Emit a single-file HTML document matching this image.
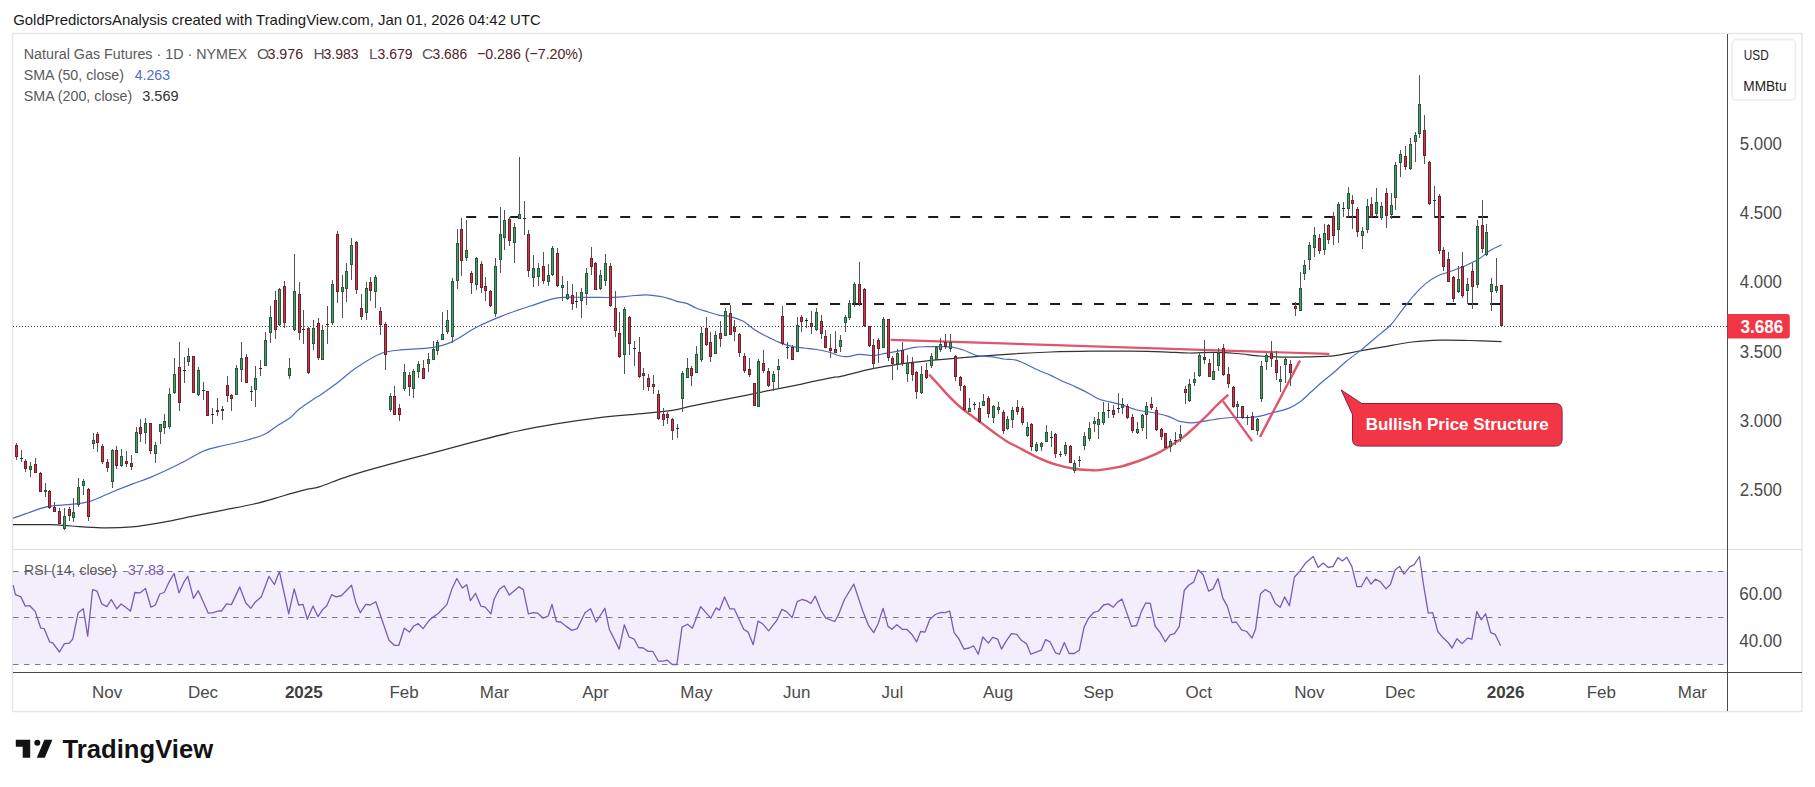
<!DOCTYPE html>
<html><head><meta charset="utf-8"><title>Natural Gas Futures chart</title>
<style>
html,body{margin:0;padding:0;background:#fff;}
body{width:1815px;height:787px;overflow:hidden;}
svg{display:block;font-family:"Liberation Sans",sans-serif;}
</style></head><body>
<svg width="1815" height="787" viewBox="0 0 1815 787" shape-rendering="auto">
<rect x="12.5" y="33.5" width="1789.5" height="678" fill="#fff" stroke="#e6e6e6" stroke-width="1.5"/>
<rect x="13" y="571.5" width="1714" height="92.5" fill="#f3eefb"/>
<line x1="13" y1="549.5" x2="1802" y2="549.5" stroke="#dedede" stroke-width="1"/>
<line x1="13" y1="571.5" x2="1727" y2="571.5" stroke="#787b86" stroke-width="1" stroke-dasharray="5.5 5.5"/>
<line x1="13" y1="617.5" x2="1727" y2="617.5" stroke="#787b86" stroke-width="1" stroke-dasharray="5.5 5.5"/>
<line x1="13" y1="664.5" x2="1727" y2="664.5" stroke="#787b86" stroke-width="1" stroke-dasharray="5.5 5.5"/>
<line x1="1727.5" y1="34" x2="1727.5" y2="711" stroke="#4a4a4a" stroke-width="1"/>
<line x1="13" y1="672.5" x2="1802" y2="672.5" stroke="#4a4a4a" stroke-width="1"/>
<line x1="13" y1="326.5" x2="1727" y2="326.5" stroke="#4d3f45" stroke-width="1" stroke-dasharray="1 2"/>
<line x1="466.2" y1="217" x2="1488" y2="217" stroke="#1c1c1c" stroke-width="2" stroke-dasharray="10 12"/>
<line x1="720.1" y1="304" x2="1501" y2="304" stroke="#1c1c1c" stroke-width="2" stroke-dasharray="10 12"/>
<path d="M13,524.7 C19.28,524.7 41.03,524.48 50.7,524.7 C60.37,524.92 62.53,525.48 71,526 C79.47,526.52 91.33,527.67 101.5,527.8 C111.67,527.93 121.83,527.72 132,526.8 C142.17,525.88 152.33,524.07 162.5,522.3 C172.67,520.53 182.83,518.23 193,516.2 C203.17,514.17 213.33,512.13 223.5,510.1 C233.67,508.07 243.85,506.43 254,504 C264.15,501.57 275.93,497.87 284.4,495.5 C292.87,493.13 298.87,491.28 304.8,489.8 C310.73,488.32 312.8,488.85 320,486.6 C327.2,484.35 336.35,480.03 348,476.3 C359.65,472.57 375.93,468.07 389.9,464.2 C403.87,460.33 417.83,456.82 431.8,453.1 C445.77,449.38 459.73,445.5 473.7,441.9 C487.67,438.3 501.62,434.53 515.6,431.5 C529.58,428.47 543.62,426.02 557.6,423.7 C571.58,421.38 587.43,419.1 599.5,417.6 C611.57,416.1 618.13,415.85 630,414.7 C641.87,413.55 660.53,412.12 670.7,410.7 C680.87,409.28 680.85,408.3 691,406.2 C701.15,404.1 718.05,400.82 731.6,398.1 C745.15,395.38 760.43,392.28 772.3,389.9 C784.17,387.52 792.63,385.9 802.8,383.8 C812.97,381.7 827.1,378.5 833.3,377.3 C839.5,376.1 833.43,378.03 840,376.6 C846.57,375.17 862.78,370.77 872.7,368.7 C882.62,366.63 890.07,365.53 899.5,364.2 C908.93,362.87 920.22,361.68 929.3,360.7 C938.38,359.72 940.55,359.4 954,358.3 C967.45,357.2 993.88,355.15 1010,354.1 C1026.12,353.05 1037.15,352.48 1050.7,352 C1064.25,351.52 1077.75,351.33 1091.3,351.2 C1104.85,351.07 1120.13,351.1 1132,351.2 C1143.87,351.3 1152.83,351.5 1162.5,351.8 C1172.17,352.1 1181.37,352.9 1190,353 C1198.63,353.1 1206.43,352.32 1214.3,352.4 C1222.17,352.48 1229.57,352.9 1237.2,353.5 C1244.83,354.1 1252.48,355.38 1260.1,356 C1267.72,356.62 1275.28,357.05 1282.9,357.2 C1290.52,357.35 1298.17,357.07 1305.8,356.9 C1313.43,356.73 1322.03,356.73 1328.7,356.2 C1335.37,355.67 1340.58,354.58 1345.8,353.7 C1351.02,352.82 1353.73,352.05 1360,350.9 C1366.27,349.75 1374.73,348.28 1383.4,346.8 C1392.07,345.32 1402.47,343.12 1412,342 C1421.53,340.88 1431.07,340.35 1440.6,340.1 C1450.13,339.85 1459.03,340.25 1469.2,340.5 C1479.37,340.75 1496.2,341.42 1501.6,341.6" fill="none" stroke="#333333" stroke-width="1.25"/>
<path d="M13,518.2 C15.88,517.18 24.37,514.07 30.3,512.1 C36.23,510.13 41.82,507.68 48.6,506.4 C55.38,505.12 64.22,505.2 71,504.4 C77.78,503.6 82.53,503.63 89.3,501.6 C96.07,499.57 104.48,495.12 111.6,492.2 C118.72,489.28 125.22,486.7 132,484.1 C138.78,481.5 143.83,480.23 152.3,476.6 C160.77,472.97 174.33,466.53 182.8,462.3 C191.27,458.07 196.32,454 203.1,451.2 C209.88,448.4 216.72,447.2 223.5,445.5 C230.28,443.8 237.03,442.83 243.8,441 C250.57,439.17 258.68,436.93 264.1,434.5 C269.52,432.07 271.9,429.22 276.3,426.4 C280.7,423.58 286.77,420.42 290.5,417.6 C294.23,414.78 294.63,412.72 298.7,409.5 C302.77,406.28 311.35,400.68 314.9,398.3 C318.45,395.92 316.35,397.72 320,395.2 C323.65,392.68 330.75,387.77 336.8,383.2 C342.85,378.63 348.85,372.78 356.3,367.8 C363.75,362.82 373.58,356.32 381.5,353.3 C389.42,350.28 395.42,350.63 403.8,349.7 C412.18,348.77 423.87,348.97 431.8,347.7 C439.73,346.43 443.95,345.5 451.4,342.1 C458.85,338.7 468.12,331.63 476.5,327.3 C484.88,322.97 492.85,319.6 501.7,316.1 C510.55,312.6 520.28,309.33 529.6,306.3 C538.92,303.27 548.28,299.38 557.6,297.9 C566.92,296.42 576.18,297.48 585.5,297.4 C594.82,297.32 606.08,297.63 613.5,297.4 C620.92,297.17 624.53,296.43 630,296 C635.47,295.57 641.3,294.73 646.3,294.8 C651.3,294.87 656.07,295.72 660,296.4 C663.93,297.08 666.92,298.02 669.9,298.9 C672.88,299.78 675.08,300.95 677.9,301.7 C680.72,302.45 683.67,302.3 686.8,303.4 C689.93,304.5 693.23,306.9 696.7,308.3 C700.17,309.7 703.8,310.63 707.6,311.8 C711.4,312.97 715.53,314.47 719.5,315.3 C723.47,316.13 727.43,315.82 731.4,316.8 C735.37,317.78 740,319.47 743.3,321.2 C746.6,322.93 748.55,325.3 751.2,327.2 C753.85,329.1 756.22,330.87 759.2,332.6 C762.18,334.33 765.47,335.85 769.1,337.6 C772.73,339.35 777.2,341.65 781,343.1 C784.8,344.55 788.1,345.48 791.9,346.3 C795.7,347.12 799.67,347.47 803.8,348 C807.93,348.53 812.57,348.83 816.7,349.5 C820.83,350.17 824.72,350.92 828.6,352 C832.48,353.08 836.78,355.23 840,356 C843.22,356.77 844.6,356.88 847.9,356.6 C851.2,356.32 855.67,354.47 859.8,354.3 C863.93,354.13 868.4,355.77 872.7,355.6 C877,355.43 881.13,354.1 885.6,353.3 C890.07,352.5 894.7,351.78 899.5,350.8 C904.3,349.82 909.93,348.08 914.4,347.4 C918.87,346.72 922.17,346.82 926.3,346.7 C930.43,346.58 934.9,346.63 939.2,346.7 C943.5,346.77 947.97,346.5 952.1,347.1 C956.23,347.7 959.87,348.88 964,350.3 C968.13,351.72 972.45,354.55 976.9,355.6 C981.35,356.65 986.25,356.03 990.7,356.6 C995.15,357.17 1000.38,358.53 1003.6,359 C1006.82,359.47 1007.92,359.2 1010,359.4 C1012.08,359.6 1013.57,359.48 1016.1,360.2 C1018.63,360.92 1021.47,362.02 1025.2,363.7 C1028.93,365.38 1034.25,368.35 1038.5,370.3 C1042.75,372.25 1046.98,373.7 1050.7,375.4 C1054.42,377.1 1056.57,378.55 1060.8,380.5 C1065.03,382.45 1071.35,384.9 1076.1,387.1 C1080.85,389.3 1085.42,391.67 1089.3,393.7 C1093.18,395.73 1096.02,397.95 1099.4,399.3 C1102.78,400.65 1105.87,400.87 1109.6,401.8 C1113.33,402.73 1117.23,403.53 1121.8,404.9 C1126.37,406.27 1131.92,408.73 1137,410 C1142.08,411.27 1147.22,411.48 1152.3,412.5 C1157.38,413.52 1163.27,414.75 1167.5,416.1 C1171.73,417.45 1175.62,419.72 1177.7,420.6 C1179.78,421.48 1177.72,421.02 1180,421.4 C1182.28,421.78 1187.58,422.9 1191.4,422.9 C1195.22,422.9 1199.08,421.97 1202.9,421.4 C1206.72,420.83 1209.53,420.15 1214.3,419.5 C1219.07,418.85 1225.78,417.83 1231.5,417.5 C1237.22,417.17 1243.83,417.73 1248.6,417.5 C1253.37,417.27 1255.9,416.97 1260.1,416.1 C1264.3,415.23 1269.05,413.58 1273.8,412.3 C1278.55,411.02 1284.22,410.15 1288.6,408.4 C1292.98,406.65 1296.28,404.62 1300.1,401.8 C1303.92,398.98 1307.68,394.93 1311.5,391.5 C1315.32,388.07 1319.18,384.45 1323,381.2 C1326.82,377.95 1330.6,375.25 1334.4,372 C1338.2,368.75 1341.53,365.22 1345.8,361.7 C1350.07,358.18 1356.9,353.3 1360,350.9 C1363.1,348.5 1361.13,350.05 1364.4,347.3 C1367.67,344.55 1375.15,338.2 1379.6,334.4 C1384.05,330.6 1387.28,328.63 1391.1,324.5 C1394.92,320.37 1398.7,314.47 1402.5,309.6 C1406.3,304.73 1410.08,299.58 1413.9,295.3 C1417.72,291.02 1421.58,287.08 1425.4,283.9 C1429.22,280.72 1432.67,278.27 1436.8,276.2 C1440.93,274.13 1445.43,273.25 1450.2,271.5 C1454.97,269.75 1460.65,267.77 1465.4,265.7 C1470.15,263.63 1474.57,261.63 1478.7,259.1 C1482.83,256.57 1486.38,252.88 1490.2,250.5 C1494.02,248.12 1499.7,245.75 1501.6,244.8" fill="none" stroke="#4a68c6" stroke-width="1.2"/>
<g fill="none" stroke="#dc4760" stroke-width="2.4" stroke-linecap="round" stroke-linejoin="round" opacity="0.92">
<line x1="891.5" y1="339.8" x2="1328.4" y2="353.9" stroke-width="2.2"/>
<path d="M929.8,375.3 C931.15,376.75 934.65,380.45 937.9,384 C941.15,387.55 945.48,392.68 949.3,396.6 C953.12,400.52 956.98,404.25 960.8,407.5 C964.62,410.75 968.4,413.25 972.2,416.1 C976,418.95 979.78,421.75 983.6,424.6 C987.42,427.45 991.28,430.43 995.1,433.2 C998.92,435.97 1002.82,438.93 1006.5,441.2 C1010.18,443.47 1012.25,444.2 1017.2,446.8 C1022.15,449.4 1029.85,453.87 1036.2,456.8 C1042.55,459.73 1048.93,462.4 1055.3,464.4 C1061.67,466.4 1068.62,467.85 1074.4,468.8 C1080.18,469.75 1085.88,469.88 1090,470.1 C1094.12,470.32 1094.42,470.58 1099.1,470.1 C1103.78,469.62 1111.75,468.63 1118.1,467.2 C1124.45,465.77 1130.85,463.72 1137.2,461.5 C1143.55,459.28 1151.32,456.13 1156.2,453.9 C1161.08,451.67 1163.32,450 1166.5,448.1 C1169.68,446.2 1172.55,444.28 1175.3,442.5 C1178.05,440.72 1180.55,439.23 1183,437.4 C1185.45,435.57 1187.23,433.98 1190,431.5 C1192.77,429.02 1196.6,425.33 1199.6,422.5 C1202.6,419.67 1205.25,417.25 1208,414.5 C1210.75,411.75 1212.83,409.2 1216.1,406 C1219.37,402.8 1225.68,397.08 1227.6,395.3"/>
<line x1="1223.5" y1="401.9" x2="1251.6" y2="440.4"/>
<line x1="1260.4" y1="436.1" x2="1299.5" y2="361.4"/>
</g>
<g shape-rendering="crispEdges"><rect x="16" y="443" width="1" height="17" fill="#545454"/><rect x="15" y="445" width="3" height="12" fill="#74202c"/><rect x="16" y="446" width="1" height="10" fill="#c43a4e"/><rect x="21" y="450" width="1" height="12" fill="#545454"/><rect x="20" y="458" width="3" height="1.4" fill="#2e2e2e"/><rect x="25" y="459" width="1" height="13" fill="#545454"/><rect x="24" y="461" width="3" height="8" fill="#74202c"/><rect x="25" y="462" width="1" height="6" fill="#c43a4e"/><rect x="30" y="462" width="1" height="15" fill="#545454"/><rect x="29" y="466" width="3" height="4" fill="#26583a"/><rect x="30" y="467" width="1" height="2" fill="#4f9c6a"/><rect x="35" y="458" width="1" height="15" fill="#545454"/><rect x="34" y="464" width="3" height="9" fill="#74202c"/><rect x="35" y="465" width="1" height="7" fill="#c43a4e"/><rect x="40" y="472" width="1" height="20" fill="#545454"/><rect x="39" y="473" width="3" height="19" fill="#74202c"/><rect x="40" y="474" width="1" height="17" fill="#c43a4e"/><rect x="45" y="483" width="1" height="14" fill="#545454"/><rect x="44" y="490" width="3" height="2" fill="#26583a"/><rect x="49" y="490" width="1" height="19" fill="#545454"/><rect x="48" y="491" width="3" height="17" fill="#74202c"/><rect x="49" y="492" width="1" height="15" fill="#c43a4e"/><rect x="54" y="502" width="1" height="10" fill="#545454"/><rect x="53" y="507" width="3" height="5" fill="#74202c"/><rect x="54" y="508" width="1" height="3" fill="#c43a4e"/><rect x="59" y="508" width="1" height="16" fill="#545454"/><rect x="58" y="511" width="3" height="13" fill="#74202c"/><rect x="59" y="512" width="1" height="11" fill="#c43a4e"/><rect x="64" y="508" width="1" height="22" fill="#545454"/><rect x="63" y="516" width="3" height="13" fill="#26583a"/><rect x="64" y="517" width="1" height="11" fill="#4f9c6a"/><rect x="69" y="507" width="1" height="14" fill="#545454"/><rect x="68" y="509" width="3" height="7" fill="#74202c"/><rect x="69" y="510" width="1" height="5" fill="#c43a4e"/><rect x="73" y="498" width="1" height="24" fill="#545454"/><rect x="72" y="512" width="3" height="6" fill="#26583a"/><rect x="73" y="513" width="1" height="4" fill="#4f9c6a"/><rect x="78" y="478" width="1" height="29" fill="#545454"/><rect x="77" y="487" width="3" height="18" fill="#26583a"/><rect x="78" y="488" width="1" height="16" fill="#4f9c6a"/><rect x="83" y="479" width="1" height="16" fill="#545454"/><rect x="82" y="481" width="3" height="5" fill="#26583a"/><rect x="83" y="482" width="1" height="3" fill="#4f9c6a"/><rect x="88" y="488" width="1" height="33" fill="#545454"/><rect x="87" y="489" width="3" height="28" fill="#74202c"/><rect x="88" y="490" width="1" height="26" fill="#c43a4e"/><rect x="93" y="433" width="1" height="16" fill="#545454"/><rect x="92" y="440" width="3" height="4" fill="#26583a"/><rect x="93" y="441" width="1" height="2" fill="#4f9c6a"/><rect x="97" y="432" width="1" height="20" fill="#545454"/><rect x="96" y="434" width="3" height="9" fill="#74202c"/><rect x="97" y="435" width="1" height="7" fill="#c43a4e"/><rect x="102" y="444" width="1" height="20" fill="#545454"/><rect x="101" y="446" width="3" height="16" fill="#74202c"/><rect x="102" y="447" width="1" height="14" fill="#c43a4e"/><rect x="107" y="459" width="1" height="13" fill="#545454"/><rect x="106" y="462" width="3" height="6" fill="#74202c"/><rect x="107" y="463" width="1" height="4" fill="#c43a4e"/><rect x="112" y="449" width="1" height="39" fill="#545454"/><rect x="111" y="450" width="3" height="32" fill="#26583a"/><rect x="112" y="451" width="1" height="30" fill="#4f9c6a"/><rect x="116" y="446" width="1" height="23" fill="#545454"/><rect x="115" y="450" width="3" height="16" fill="#74202c"/><rect x="116" y="451" width="1" height="14" fill="#c43a4e"/><rect x="121" y="449" width="1" height="18" fill="#545454"/><rect x="120" y="456" width="3" height="10" fill="#26583a"/><rect x="121" y="457" width="1" height="8" fill="#4f9c6a"/><rect x="126" y="451" width="1" height="16" fill="#545454"/><rect x="125" y="461" width="3" height="3" fill="#74202c"/><rect x="126" y="462" width="1" height="1" fill="#c43a4e"/><rect x="131" y="455" width="1" height="15" fill="#545454"/><rect x="130" y="463" width="3" height="4" fill="#74202c"/><rect x="131" y="464" width="1" height="2" fill="#c43a4e"/><rect x="136" y="427" width="1" height="26" fill="#545454"/><rect x="135" y="432" width="3" height="21" fill="#26583a"/><rect x="136" y="433" width="1" height="19" fill="#4f9c6a"/><rect x="140" y="419" width="1" height="23" fill="#545454"/><rect x="139" y="427" width="3" height="7" fill="#74202c"/><rect x="140" y="428" width="1" height="5" fill="#c43a4e"/><rect x="145" y="418" width="1" height="26" fill="#545454"/><rect x="144" y="423" width="3" height="10" fill="#26583a"/><rect x="145" y="424" width="1" height="8" fill="#4f9c6a"/><rect x="150" y="423" width="1" height="31" fill="#545454"/><rect x="149" y="423" width="3" height="28" fill="#74202c"/><rect x="150" y="424" width="1" height="26" fill="#c43a4e"/><rect x="155" y="442" width="1" height="21" fill="#545454"/><rect x="154" y="445" width="3" height="9" fill="#26583a"/><rect x="155" y="446" width="1" height="7" fill="#4f9c6a"/><rect x="160" y="424" width="1" height="20" fill="#545454"/><rect x="159" y="424" width="3" height="8" fill="#26583a"/><rect x="160" y="425" width="1" height="6" fill="#4f9c6a"/><rect x="164" y="414" width="1" height="20" fill="#545454"/><rect x="163" y="421" width="3" height="7" fill="#26583a"/><rect x="164" y="422" width="1" height="5" fill="#4f9c6a"/><rect x="169" y="388" width="1" height="41" fill="#545454"/><rect x="168" y="394" width="3" height="33" fill="#26583a"/><rect x="169" y="395" width="1" height="31" fill="#4f9c6a"/><rect x="174" y="358" width="1" height="36" fill="#545454"/><rect x="173" y="374" width="3" height="19" fill="#26583a"/><rect x="174" y="375" width="1" height="17" fill="#4f9c6a"/><rect x="179" y="342" width="1" height="69" fill="#545454"/><rect x="178" y="367" width="3" height="36" fill="#74202c"/><rect x="179" y="368" width="1" height="34" fill="#c43a4e"/><rect x="184" y="357" width="1" height="26" fill="#545454"/><rect x="183" y="370" width="3" height="1.4" fill="#2e2e2e"/><rect x="188" y="348" width="1" height="18" fill="#545454"/><rect x="187" y="356" width="3" height="6" fill="#26583a"/><rect x="188" y="357" width="1" height="4" fill="#4f9c6a"/><rect x="193" y="356" width="1" height="37" fill="#545454"/><rect x="192" y="356" width="3" height="37" fill="#74202c"/><rect x="193" y="357" width="1" height="35" fill="#c43a4e"/><rect x="198" y="367" width="1" height="29" fill="#545454"/><rect x="197" y="370" width="3" height="25" fill="#26583a"/><rect x="198" y="371" width="1" height="23" fill="#4f9c6a"/><rect x="203" y="382" width="1" height="18" fill="#545454"/><rect x="202" y="390" width="3" height="1.4" fill="#2e2e2e"/><rect x="207" y="391" width="1" height="25" fill="#545454"/><rect x="206" y="391" width="3" height="25" fill="#74202c"/><rect x="207" y="392" width="1" height="23" fill="#c43a4e"/><rect x="212" y="408" width="1" height="16" fill="#545454"/><rect x="211" y="414" width="3" height="1.4" fill="#2e2e2e"/><rect x="217" y="398" width="1" height="18" fill="#545454"/><rect x="216" y="410" width="3" height="2" fill="#74202c"/><rect x="222" y="406" width="1" height="14" fill="#545454"/><rect x="221" y="409" width="3" height="2" fill="#3a3a3a"/><rect x="227" y="376" width="1" height="26" fill="#545454"/><rect x="226" y="385" width="3" height="11" fill="#74202c"/><rect x="227" y="386" width="1" height="9" fill="#c43a4e"/><rect x="231" y="394" width="1" height="17" fill="#545454"/><rect x="230" y="395" width="3" height="4" fill="#74202c"/><rect x="231" y="396" width="1" height="2" fill="#c43a4e"/><rect x="236" y="365" width="1" height="30" fill="#545454"/><rect x="235" y="368" width="3" height="27" fill="#26583a"/><rect x="236" y="369" width="1" height="25" fill="#4f9c6a"/><rect x="241" y="342" width="1" height="40" fill="#545454"/><rect x="240" y="358" width="3" height="12" fill="#26583a"/><rect x="241" y="359" width="1" height="10" fill="#4f9c6a"/><rect x="246" y="354" width="1" height="29" fill="#545454"/><rect x="245" y="357" width="3" height="26" fill="#74202c"/><rect x="246" y="358" width="1" height="24" fill="#c43a4e"/><rect x="251" y="386" width="1" height="15" fill="#545454"/><rect x="250" y="391" width="3" height="1.4" fill="#2e2e2e"/><rect x="255" y="366" width="1" height="41" fill="#545454"/><rect x="254" y="378" width="3" height="12" fill="#26583a"/><rect x="255" y="379" width="1" height="10" fill="#4f9c6a"/><rect x="260" y="360" width="1" height="16" fill="#545454"/><rect x="259" y="368" width="3" height="1.4" fill="#2e2e2e"/><rect x="265" y="332" width="1" height="34" fill="#545454"/><rect x="264" y="340" width="3" height="26" fill="#26583a"/><rect x="265" y="341" width="1" height="24" fill="#4f9c6a"/><rect x="270" y="306" width="1" height="37" fill="#545454"/><rect x="269" y="317" width="3" height="16" fill="#26583a"/><rect x="270" y="318" width="1" height="14" fill="#4f9c6a"/><rect x="275" y="291" width="1" height="48" fill="#545454"/><rect x="274" y="300" width="3" height="30" fill="#74202c"/><rect x="275" y="301" width="1" height="28" fill="#c43a4e"/><rect x="279" y="288" width="1" height="38" fill="#545454"/><rect x="278" y="289" width="3" height="36" fill="#26583a"/><rect x="279" y="290" width="1" height="34" fill="#4f9c6a"/><rect x="284" y="281" width="1" height="47" fill="#545454"/><rect x="283" y="286" width="3" height="37" fill="#74202c"/><rect x="284" y="287" width="1" height="35" fill="#c43a4e"/><rect x="289" y="358" width="1" height="21" fill="#545454"/><rect x="288" y="368" width="3" height="8" fill="#26583a"/><rect x="289" y="369" width="1" height="6" fill="#4f9c6a"/><rect x="294" y="254" width="1" height="77" fill="#545454"/><rect x="293" y="291" width="3" height="39" fill="#26583a"/><rect x="294" y="292" width="1" height="37" fill="#4f9c6a"/><rect x="299" y="282" width="1" height="58" fill="#545454"/><rect x="298" y="294" width="3" height="39" fill="#74202c"/><rect x="299" y="295" width="1" height="37" fill="#c43a4e"/><rect x="303" y="310" width="1" height="34" fill="#545454"/><rect x="302" y="329" width="3" height="1.4" fill="#2e2e2e"/><rect x="308" y="327" width="1" height="47" fill="#545454"/><rect x="307" y="328" width="3" height="45" fill="#74202c"/><rect x="308" y="329" width="1" height="43" fill="#c43a4e"/><rect x="313" y="320" width="1" height="30" fill="#545454"/><rect x="312" y="328" width="3" height="16" fill="#26583a"/><rect x="313" y="329" width="1" height="14" fill="#4f9c6a"/><rect x="318" y="318" width="1" height="42" fill="#545454"/><rect x="317" y="323" width="3" height="35" fill="#74202c"/><rect x="318" y="324" width="1" height="33" fill="#c43a4e"/><rect x="322" y="325" width="1" height="35" fill="#545454"/><rect x="321" y="330" width="3" height="30" fill="#26583a"/><rect x="322" y="331" width="1" height="28" fill="#4f9c6a"/><rect x="327" y="306" width="1" height="38" fill="#545454"/><rect x="326" y="324" width="3" height="1.4" fill="#2e2e2e"/><rect x="332" y="280" width="1" height="45" fill="#545454"/><rect x="331" y="284" width="3" height="39" fill="#26583a"/><rect x="332" y="285" width="1" height="37" fill="#4f9c6a"/><rect x="337" y="231" width="1" height="72" fill="#545454"/><rect x="336" y="234" width="3" height="58" fill="#74202c"/><rect x="337" y="235" width="1" height="56" fill="#c43a4e"/><rect x="342" y="275" width="1" height="43" fill="#545454"/><rect x="341" y="287" width="3" height="5" fill="#26583a"/><rect x="342" y="288" width="1" height="3" fill="#4f9c6a"/><rect x="346" y="263" width="1" height="39" fill="#545454"/><rect x="345" y="271" width="3" height="18" fill="#26583a"/><rect x="346" y="272" width="1" height="16" fill="#4f9c6a"/><rect x="351" y="238" width="1" height="42" fill="#545454"/><rect x="350" y="245" width="3" height="20" fill="#26583a"/><rect x="351" y="246" width="1" height="18" fill="#4f9c6a"/><rect x="356" y="241" width="1" height="53" fill="#545454"/><rect x="355" y="242" width="3" height="48" fill="#74202c"/><rect x="356" y="243" width="1" height="46" fill="#c43a4e"/><rect x="361" y="294" width="1" height="26" fill="#545454"/><rect x="360" y="308" width="3" height="9" fill="#74202c"/><rect x="361" y="309" width="1" height="7" fill="#c43a4e"/><rect x="366" y="282" width="1" height="38" fill="#545454"/><rect x="365" y="288" width="3" height="25" fill="#26583a"/><rect x="366" y="289" width="1" height="23" fill="#4f9c6a"/><rect x="370" y="277" width="1" height="24" fill="#545454"/><rect x="369" y="282" width="3" height="9" fill="#74202c"/><rect x="370" y="283" width="1" height="7" fill="#c43a4e"/><rect x="375" y="275" width="1" height="33" fill="#545454"/><rect x="374" y="277" width="3" height="15" fill="#26583a"/><rect x="375" y="278" width="1" height="13" fill="#4f9c6a"/><rect x="380" y="307" width="1" height="28" fill="#545454"/><rect x="379" y="311" width="3" height="14" fill="#74202c"/><rect x="380" y="312" width="1" height="12" fill="#c43a4e"/><rect x="385" y="322" width="1" height="48" fill="#545454"/><rect x="384" y="324" width="3" height="31" fill="#74202c"/><rect x="385" y="325" width="1" height="29" fill="#c43a4e"/><rect x="390" y="393" width="1" height="19" fill="#545454"/><rect x="389" y="396" width="3" height="14" fill="#26583a"/><rect x="390" y="397" width="1" height="12" fill="#4f9c6a"/><rect x="394" y="386" width="1" height="29" fill="#545454"/><rect x="393" y="396" width="3" height="19" fill="#74202c"/><rect x="394" y="397" width="1" height="17" fill="#c43a4e"/><rect x="399" y="404" width="1" height="17" fill="#545454"/><rect x="398" y="408" width="3" height="7" fill="#74202c"/><rect x="399" y="409" width="1" height="5" fill="#c43a4e"/><rect x="404" y="364" width="1" height="27" fill="#545454"/><rect x="403" y="372" width="3" height="17" fill="#26583a"/><rect x="404" y="373" width="1" height="15" fill="#4f9c6a"/><rect x="409" y="372" width="1" height="24" fill="#545454"/><rect x="408" y="375" width="3" height="12" fill="#74202c"/><rect x="409" y="376" width="1" height="10" fill="#c43a4e"/><rect x="413" y="369" width="1" height="29" fill="#545454"/><rect x="412" y="371" width="3" height="18" fill="#26583a"/><rect x="413" y="372" width="1" height="16" fill="#4f9c6a"/><rect x="418" y="361" width="1" height="17" fill="#545454"/><rect x="417" y="364" width="3" height="8" fill="#26583a"/><rect x="418" y="365" width="1" height="6" fill="#4f9c6a"/><rect x="423" y="360" width="1" height="19" fill="#545454"/><rect x="422" y="368" width="3" height="11" fill="#74202c"/><rect x="423" y="369" width="1" height="9" fill="#c43a4e"/><rect x="428" y="353" width="1" height="19" fill="#545454"/><rect x="427" y="359" width="3" height="5" fill="#26583a"/><rect x="428" y="360" width="1" height="3" fill="#4f9c6a"/><rect x="433" y="341" width="1" height="19" fill="#545454"/><rect x="432" y="349" width="3" height="11" fill="#26583a"/><rect x="433" y="350" width="1" height="9" fill="#4f9c6a"/><rect x="437" y="340" width="1" height="15" fill="#545454"/><rect x="436" y="342" width="3" height="9" fill="#26583a"/><rect x="437" y="343" width="1" height="7" fill="#4f9c6a"/><rect x="442" y="312" width="1" height="28" fill="#545454"/><rect x="441" y="334" width="3" height="6" fill="#26583a"/><rect x="442" y="335" width="1" height="4" fill="#4f9c6a"/><rect x="447" y="310" width="1" height="24" fill="#545454"/><rect x="446" y="320" width="3" height="12" fill="#26583a"/><rect x="447" y="321" width="1" height="10" fill="#4f9c6a"/><rect x="452" y="278" width="1" height="65" fill="#545454"/><rect x="451" y="281" width="3" height="56" fill="#26583a"/><rect x="452" y="282" width="1" height="54" fill="#4f9c6a"/><rect x="457" y="229" width="1" height="60" fill="#545454"/><rect x="456" y="243" width="3" height="38" fill="#26583a"/><rect x="457" y="244" width="1" height="36" fill="#4f9c6a"/><rect x="461" y="218" width="1" height="58" fill="#545454"/><rect x="460" y="229" width="3" height="32" fill="#74202c"/><rect x="461" y="230" width="1" height="30" fill="#c43a4e"/><rect x="466" y="220" width="1" height="41" fill="#545454"/><rect x="465" y="250" width="3" height="8" fill="#26583a"/><rect x="466" y="251" width="1" height="6" fill="#4f9c6a"/><rect x="471" y="271" width="1" height="23" fill="#545454"/><rect x="470" y="273" width="3" height="10" fill="#74202c"/><rect x="471" y="274" width="1" height="8" fill="#c43a4e"/><rect x="476" y="257" width="1" height="33" fill="#545454"/><rect x="475" y="258" width="3" height="27" fill="#26583a"/><rect x="476" y="259" width="1" height="25" fill="#4f9c6a"/><rect x="481" y="261" width="1" height="32" fill="#545454"/><rect x="480" y="264" width="3" height="24" fill="#74202c"/><rect x="481" y="265" width="1" height="22" fill="#c43a4e"/><rect x="485" y="277" width="1" height="24" fill="#545454"/><rect x="484" y="286" width="3" height="5" fill="#74202c"/><rect x="485" y="287" width="1" height="3" fill="#c43a4e"/><rect x="490" y="290" width="1" height="17" fill="#545454"/><rect x="489" y="291" width="3" height="15" fill="#74202c"/><rect x="490" y="292" width="1" height="13" fill="#c43a4e"/><rect x="495" y="258" width="1" height="59" fill="#545454"/><rect x="494" y="266" width="3" height="48" fill="#26583a"/><rect x="495" y="267" width="1" height="46" fill="#4f9c6a"/><rect x="500" y="207" width="1" height="66" fill="#545454"/><rect x="499" y="234" width="3" height="26" fill="#26583a"/><rect x="500" y="235" width="1" height="24" fill="#4f9c6a"/><rect x="504" y="210" width="1" height="40" fill="#545454"/><rect x="503" y="220" width="3" height="18" fill="#26583a"/><rect x="504" y="221" width="1" height="16" fill="#4f9c6a"/><rect x="509" y="217" width="1" height="29" fill="#545454"/><rect x="508" y="219" width="3" height="22" fill="#74202c"/><rect x="509" y="220" width="1" height="20" fill="#c43a4e"/><rect x="514" y="223" width="1" height="40" fill="#545454"/><rect x="513" y="227" width="3" height="16" fill="#26583a"/><rect x="514" y="228" width="1" height="14" fill="#4f9c6a"/><rect x="519" y="157" width="1" height="62" fill="#545454"/><rect x="518" y="214" width="3" height="5" fill="#26583a"/><rect x="519" y="215" width="1" height="3" fill="#4f9c6a"/><rect x="524" y="201" width="1" height="34" fill="#545454"/><rect x="523" y="218" width="3" height="1.4" fill="#2e2e2e"/><rect x="528" y="230" width="1" height="47" fill="#545454"/><rect x="527" y="234" width="3" height="37" fill="#74202c"/><rect x="528" y="235" width="1" height="35" fill="#c43a4e"/><rect x="533" y="255" width="1" height="32" fill="#545454"/><rect x="532" y="268" width="3" height="10" fill="#26583a"/><rect x="533" y="269" width="1" height="8" fill="#4f9c6a"/><rect x="538" y="263" width="1" height="23" fill="#545454"/><rect x="537" y="268" width="3" height="9" fill="#26583a"/><rect x="538" y="269" width="1" height="7" fill="#4f9c6a"/><rect x="543" y="252" width="1" height="32" fill="#545454"/><rect x="542" y="266" width="3" height="15" fill="#74202c"/><rect x="543" y="267" width="1" height="13" fill="#c43a4e"/><rect x="548" y="264" width="1" height="22" fill="#545454"/><rect x="547" y="275" width="3" height="7" fill="#26583a"/><rect x="548" y="276" width="1" height="5" fill="#4f9c6a"/><rect x="552" y="246" width="1" height="30" fill="#545454"/><rect x="551" y="248" width="3" height="27" fill="#26583a"/><rect x="552" y="249" width="1" height="25" fill="#4f9c6a"/><rect x="557" y="248" width="1" height="39" fill="#545454"/><rect x="556" y="253" width="3" height="33" fill="#74202c"/><rect x="557" y="254" width="1" height="31" fill="#c43a4e"/><rect x="562" y="276" width="1" height="25" fill="#545454"/><rect x="561" y="285" width="3" height="3" fill="#26583a"/><rect x="562" y="286" width="1" height="1" fill="#4f9c6a"/><rect x="567" y="281" width="1" height="19" fill="#545454"/><rect x="566" y="294" width="3" height="5" fill="#26583a"/><rect x="567" y="295" width="1" height="3" fill="#4f9c6a"/><rect x="572" y="284" width="1" height="26" fill="#545454"/><rect x="571" y="295" width="3" height="9" fill="#74202c"/><rect x="572" y="296" width="1" height="7" fill="#c43a4e"/><rect x="576" y="292" width="1" height="16" fill="#545454"/><rect x="575" y="301" width="3" height="1.4" fill="#2e2e2e"/><rect x="581" y="288" width="1" height="30" fill="#545454"/><rect x="580" y="292" width="3" height="9" fill="#26583a"/><rect x="581" y="293" width="1" height="7" fill="#4f9c6a"/><rect x="586" y="268" width="1" height="37" fill="#545454"/><rect x="585" y="273" width="3" height="21" fill="#26583a"/><rect x="586" y="274" width="1" height="19" fill="#4f9c6a"/><rect x="591" y="247" width="1" height="28" fill="#545454"/><rect x="590" y="258" width="3" height="9" fill="#74202c"/><rect x="591" y="259" width="1" height="7" fill="#c43a4e"/><rect x="595" y="262" width="1" height="28" fill="#545454"/><rect x="594" y="263" width="3" height="27" fill="#74202c"/><rect x="595" y="264" width="1" height="25" fill="#c43a4e"/><rect x="600" y="270" width="1" height="20" fill="#545454"/><rect x="599" y="275" width="3" height="14" fill="#26583a"/><rect x="600" y="276" width="1" height="12" fill="#4f9c6a"/><rect x="605" y="254" width="1" height="32" fill="#545454"/><rect x="604" y="263" width="3" height="18" fill="#26583a"/><rect x="605" y="264" width="1" height="16" fill="#4f9c6a"/><rect x="610" y="263" width="1" height="44" fill="#545454"/><rect x="609" y="266" width="3" height="40" fill="#74202c"/><rect x="610" y="267" width="1" height="38" fill="#c43a4e"/><rect x="615" y="291" width="1" height="46" fill="#545454"/><rect x="614" y="308" width="3" height="23" fill="#74202c"/><rect x="615" y="309" width="1" height="21" fill="#c43a4e"/><rect x="619" y="312" width="1" height="46" fill="#545454"/><rect x="618" y="333" width="3" height="24" fill="#74202c"/><rect x="619" y="334" width="1" height="22" fill="#c43a4e"/><rect x="624" y="307" width="1" height="67" fill="#545454"/><rect x="623" y="309" width="3" height="46" fill="#26583a"/><rect x="624" y="310" width="1" height="44" fill="#4f9c6a"/><rect x="629" y="316" width="1" height="39" fill="#545454"/><rect x="628" y="317" width="3" height="27" fill="#74202c"/><rect x="629" y="318" width="1" height="25" fill="#c43a4e"/><rect x="634" y="341" width="1" height="25" fill="#545454"/><rect x="633" y="348" width="3" height="1.4" fill="#2e2e2e"/><rect x="639" y="337" width="1" height="41" fill="#545454"/><rect x="638" y="352" width="3" height="25" fill="#74202c"/><rect x="639" y="353" width="1" height="23" fill="#c43a4e"/><rect x="643" y="368" width="1" height="22" fill="#545454"/><rect x="642" y="373" width="3" height="3" fill="#74202c"/><rect x="643" y="374" width="1" height="1" fill="#c43a4e"/><rect x="648" y="374" width="1" height="17" fill="#545454"/><rect x="647" y="378" width="3" height="9" fill="#74202c"/><rect x="648" y="379" width="1" height="7" fill="#c43a4e"/><rect x="653" y="375" width="1" height="19" fill="#545454"/><rect x="652" y="384" width="3" height="3" fill="#74202c"/><rect x="653" y="385" width="1" height="1" fill="#c43a4e"/><rect x="658" y="390" width="1" height="30" fill="#545454"/><rect x="657" y="394" width="3" height="25" fill="#74202c"/><rect x="658" y="395" width="1" height="23" fill="#c43a4e"/><rect x="663" y="408" width="1" height="18" fill="#545454"/><rect x="662" y="414" width="3" height="6" fill="#74202c"/><rect x="663" y="415" width="1" height="4" fill="#c43a4e"/><rect x="667" y="412" width="1" height="12" fill="#545454"/><rect x="666" y="414" width="3" height="4" fill="#74202c"/><rect x="667" y="415" width="1" height="2" fill="#c43a4e"/><rect x="672" y="418" width="1" height="22" fill="#545454"/><rect x="671" y="419" width="3" height="12" fill="#74202c"/><rect x="672" y="420" width="1" height="10" fill="#c43a4e"/><rect x="677" y="424" width="1" height="14" fill="#545454"/><rect x="676" y="428" width="3" height="1.4" fill="#2e2e2e"/><rect x="682" y="371" width="1" height="41" fill="#545454"/><rect x="681" y="373" width="3" height="26" fill="#26583a"/><rect x="682" y="374" width="1" height="24" fill="#4f9c6a"/><rect x="687" y="358" width="1" height="20" fill="#545454"/><rect x="686" y="368" width="3" height="10" fill="#26583a"/><rect x="687" y="369" width="1" height="8" fill="#4f9c6a"/><rect x="691" y="366" width="1" height="20" fill="#545454"/><rect x="690" y="368" width="3" height="8" fill="#74202c"/><rect x="691" y="369" width="1" height="6" fill="#c43a4e"/><rect x="696" y="346" width="1" height="27" fill="#545454"/><rect x="695" y="354" width="3" height="19" fill="#26583a"/><rect x="696" y="355" width="1" height="17" fill="#4f9c6a"/><rect x="701" y="327" width="1" height="35" fill="#545454"/><rect x="700" y="333" width="3" height="27" fill="#26583a"/><rect x="701" y="334" width="1" height="25" fill="#4f9c6a"/><rect x="706" y="317" width="1" height="29" fill="#545454"/><rect x="705" y="328" width="3" height="17" fill="#74202c"/><rect x="706" y="329" width="1" height="15" fill="#c43a4e"/><rect x="710" y="332" width="1" height="30" fill="#545454"/><rect x="709" y="342" width="3" height="15" fill="#74202c"/><rect x="710" y="343" width="1" height="13" fill="#c43a4e"/><rect x="715" y="331" width="1" height="23" fill="#545454"/><rect x="714" y="335" width="3" height="19" fill="#26583a"/><rect x="715" y="336" width="1" height="17" fill="#4f9c6a"/><rect x="720" y="321" width="1" height="26" fill="#545454"/><rect x="719" y="333" width="3" height="6" fill="#74202c"/><rect x="720" y="334" width="1" height="4" fill="#c43a4e"/><rect x="725" y="308" width="1" height="28" fill="#545454"/><rect x="724" y="311" width="3" height="25" fill="#26583a"/><rect x="725" y="312" width="1" height="23" fill="#4f9c6a"/><rect x="730" y="305" width="1" height="30" fill="#545454"/><rect x="729" y="313" width="3" height="22" fill="#74202c"/><rect x="730" y="314" width="1" height="20" fill="#c43a4e"/><rect x="734" y="320" width="1" height="21" fill="#545454"/><rect x="733" y="327" width="3" height="5" fill="#74202c"/><rect x="734" y="328" width="1" height="3" fill="#c43a4e"/><rect x="739" y="333" width="1" height="24" fill="#545454"/><rect x="738" y="334" width="3" height="19" fill="#74202c"/><rect x="739" y="335" width="1" height="17" fill="#c43a4e"/><rect x="744" y="353" width="1" height="20" fill="#545454"/><rect x="743" y="356" width="3" height="15" fill="#74202c"/><rect x="744" y="357" width="1" height="13" fill="#c43a4e"/><rect x="749" y="358" width="1" height="19" fill="#545454"/><rect x="748" y="369" width="3" height="6" fill="#74202c"/><rect x="749" y="370" width="1" height="4" fill="#c43a4e"/><rect x="754" y="383" width="1" height="23" fill="#545454"/><rect x="753" y="383" width="3" height="23" fill="#74202c"/><rect x="754" y="384" width="1" height="21" fill="#c43a4e"/><rect x="758" y="359" width="1" height="48" fill="#545454"/><rect x="757" y="361" width="3" height="46" fill="#26583a"/><rect x="758" y="362" width="1" height="44" fill="#4f9c6a"/><rect x="763" y="350" width="1" height="23" fill="#545454"/><rect x="762" y="363" width="3" height="8" fill="#74202c"/><rect x="763" y="364" width="1" height="6" fill="#c43a4e"/><rect x="768" y="368" width="1" height="19" fill="#545454"/><rect x="767" y="371" width="3" height="15" fill="#74202c"/><rect x="768" y="372" width="1" height="13" fill="#c43a4e"/><rect x="773" y="371" width="1" height="20" fill="#545454"/><rect x="772" y="374" width="3" height="8" fill="#26583a"/><rect x="773" y="375" width="1" height="6" fill="#4f9c6a"/><rect x="778" y="359" width="1" height="30" fill="#545454"/><rect x="777" y="366" width="3" height="4" fill="#26583a"/><rect x="778" y="367" width="1" height="2" fill="#4f9c6a"/><rect x="782" y="306" width="1" height="39" fill="#545454"/><rect x="781" y="316" width="3" height="28" fill="#74202c"/><rect x="782" y="317" width="1" height="26" fill="#c43a4e"/><rect x="787" y="342" width="1" height="17" fill="#545454"/><rect x="786" y="347" width="3" height="1.4" fill="#2e2e2e"/><rect x="792" y="345" width="1" height="15" fill="#545454"/><rect x="791" y="347" width="3" height="13" fill="#74202c"/><rect x="792" y="348" width="1" height="11" fill="#c43a4e"/><rect x="797" y="317" width="1" height="35" fill="#545454"/><rect x="796" y="325" width="3" height="27" fill="#26583a"/><rect x="797" y="326" width="1" height="25" fill="#4f9c6a"/><rect x="801" y="315" width="1" height="17" fill="#545454"/><rect x="800" y="317" width="3" height="5" fill="#74202c"/><rect x="801" y="318" width="1" height="3" fill="#c43a4e"/><rect x="806" y="318" width="1" height="10" fill="#545454"/><rect x="805" y="320" width="3" height="1.4" fill="#2e2e2e"/><rect x="811" y="311" width="1" height="23" fill="#545454"/><rect x="810" y="323" width="3" height="4" fill="#74202c"/><rect x="811" y="324" width="1" height="2" fill="#c43a4e"/><rect x="816" y="308" width="1" height="23" fill="#545454"/><rect x="815" y="312" width="3" height="18" fill="#26583a"/><rect x="816" y="313" width="1" height="16" fill="#4f9c6a"/><rect x="821" y="315" width="1" height="24" fill="#545454"/><rect x="820" y="321" width="3" height="13" fill="#74202c"/><rect x="821" y="322" width="1" height="11" fill="#c43a4e"/><rect x="825" y="330" width="1" height="18" fill="#545454"/><rect x="824" y="336" width="3" height="12" fill="#74202c"/><rect x="825" y="337" width="1" height="10" fill="#c43a4e"/><rect x="830" y="334" width="1" height="24" fill="#545454"/><rect x="829" y="348" width="3" height="3" fill="#74202c"/><rect x="830" y="349" width="1" height="1" fill="#c43a4e"/><rect x="835" y="331" width="1" height="22" fill="#545454"/><rect x="834" y="349" width="3" height="4" fill="#74202c"/><rect x="835" y="350" width="1" height="2" fill="#c43a4e"/><rect x="840" y="335" width="1" height="17" fill="#545454"/><rect x="839" y="340" width="3" height="7" fill="#26583a"/><rect x="840" y="341" width="1" height="5" fill="#4f9c6a"/><rect x="845" y="315" width="1" height="17" fill="#545454"/><rect x="844" y="317" width="3" height="6" fill="#26583a"/><rect x="845" y="318" width="1" height="4" fill="#4f9c6a"/><rect x="849" y="300" width="1" height="20" fill="#545454"/><rect x="848" y="303" width="3" height="15" fill="#26583a"/><rect x="849" y="304" width="1" height="13" fill="#4f9c6a"/><rect x="854" y="282" width="1" height="25" fill="#545454"/><rect x="853" y="284" width="3" height="19" fill="#26583a"/><rect x="854" y="285" width="1" height="17" fill="#4f9c6a"/><rect x="859" y="262" width="1" height="44" fill="#545454"/><rect x="858" y="284" width="3" height="20" fill="#74202c"/><rect x="859" y="285" width="1" height="18" fill="#c43a4e"/><rect x="864" y="288" width="1" height="39" fill="#545454"/><rect x="863" y="289" width="3" height="37" fill="#74202c"/><rect x="864" y="290" width="1" height="35" fill="#c43a4e"/><rect x="869" y="326" width="1" height="21" fill="#545454"/><rect x="868" y="326" width="3" height="20" fill="#74202c"/><rect x="869" y="327" width="1" height="18" fill="#c43a4e"/><rect x="873" y="339" width="1" height="30" fill="#545454"/><rect x="872" y="345" width="3" height="19" fill="#74202c"/><rect x="873" y="346" width="1" height="17" fill="#c43a4e"/><rect x="878" y="338" width="1" height="25" fill="#545454"/><rect x="877" y="340" width="3" height="9" fill="#74202c"/><rect x="878" y="341" width="1" height="7" fill="#c43a4e"/><rect x="883" y="317" width="1" height="31" fill="#545454"/><rect x="882" y="319" width="3" height="29" fill="#26583a"/><rect x="883" y="320" width="1" height="27" fill="#4f9c6a"/><rect x="888" y="319" width="1" height="42" fill="#545454"/><rect x="887" y="319" width="3" height="39" fill="#74202c"/><rect x="888" y="320" width="1" height="37" fill="#c43a4e"/><rect x="892" y="356" width="1" height="24" fill="#545454"/><rect x="891" y="358" width="3" height="6" fill="#74202c"/><rect x="892" y="359" width="1" height="4" fill="#c43a4e"/><rect x="897" y="349" width="1" height="21" fill="#545454"/><rect x="896" y="353" width="3" height="11" fill="#26583a"/><rect x="897" y="354" width="1" height="9" fill="#4f9c6a"/><rect x="902" y="342" width="1" height="24" fill="#545454"/><rect x="901" y="350" width="3" height="14" fill="#74202c"/><rect x="902" y="351" width="1" height="12" fill="#c43a4e"/><rect x="907" y="355" width="1" height="27" fill="#545454"/><rect x="906" y="363" width="3" height="11" fill="#26583a"/><rect x="907" y="364" width="1" height="9" fill="#4f9c6a"/><rect x="912" y="357" width="1" height="24" fill="#545454"/><rect x="911" y="363" width="3" height="12" fill="#74202c"/><rect x="912" y="364" width="1" height="10" fill="#c43a4e"/><rect x="916" y="371" width="1" height="28" fill="#545454"/><rect x="915" y="372" width="3" height="20" fill="#74202c"/><rect x="916" y="373" width="1" height="18" fill="#c43a4e"/><rect x="921" y="366" width="1" height="28" fill="#545454"/><rect x="920" y="374" width="3" height="19" fill="#26583a"/><rect x="921" y="375" width="1" height="17" fill="#4f9c6a"/><rect x="926" y="363" width="1" height="16" fill="#545454"/><rect x="925" y="370" width="3" height="8" fill="#74202c"/><rect x="926" y="371" width="1" height="6" fill="#c43a4e"/><rect x="931" y="353" width="1" height="15" fill="#545454"/><rect x="930" y="356" width="3" height="10" fill="#26583a"/><rect x="931" y="357" width="1" height="8" fill="#4f9c6a"/><rect x="936" y="346" width="1" height="14" fill="#545454"/><rect x="935" y="347" width="3" height="13" fill="#26583a"/><rect x="936" y="348" width="1" height="11" fill="#4f9c6a"/><rect x="940" y="338" width="1" height="14" fill="#545454"/><rect x="939" y="344" width="3" height="6" fill="#26583a"/><rect x="940" y="345" width="1" height="4" fill="#4f9c6a"/><rect x="945" y="334" width="1" height="15" fill="#545454"/><rect x="944" y="342" width="3" height="5" fill="#74202c"/><rect x="945" y="343" width="1" height="3" fill="#c43a4e"/><rect x="950" y="334" width="1" height="18" fill="#545454"/><rect x="949" y="342" width="3" height="7" fill="#26583a"/><rect x="950" y="343" width="1" height="5" fill="#4f9c6a"/><rect x="955" y="355" width="1" height="26" fill="#545454"/><rect x="954" y="356" width="3" height="21" fill="#74202c"/><rect x="955" y="357" width="1" height="19" fill="#c43a4e"/><rect x="960" y="376" width="1" height="15" fill="#545454"/><rect x="959" y="377" width="3" height="9" fill="#74202c"/><rect x="960" y="378" width="1" height="7" fill="#c43a4e"/><rect x="964" y="385" width="1" height="26" fill="#545454"/><rect x="963" y="386" width="3" height="24" fill="#74202c"/><rect x="964" y="387" width="1" height="22" fill="#c43a4e"/><rect x="969" y="398" width="1" height="14" fill="#545454"/><rect x="968" y="408" width="3" height="4" fill="#26583a"/><rect x="969" y="409" width="1" height="2" fill="#4f9c6a"/><rect x="974" y="402" width="1" height="8" fill="#545454"/><rect x="973" y="404" width="3" height="1.4" fill="#2e2e2e"/><rect x="979" y="402" width="1" height="21" fill="#545454"/><rect x="978" y="408" width="3" height="14" fill="#74202c"/><rect x="979" y="409" width="1" height="12" fill="#c43a4e"/><rect x="983" y="394" width="1" height="12" fill="#545454"/><rect x="982" y="401" width="3" height="5" fill="#26583a"/><rect x="983" y="402" width="1" height="3" fill="#4f9c6a"/><rect x="988" y="396" width="1" height="22" fill="#545454"/><rect x="987" y="398" width="3" height="16" fill="#74202c"/><rect x="988" y="399" width="1" height="14" fill="#c43a4e"/><rect x="993" y="405" width="1" height="18" fill="#545454"/><rect x="992" y="406" width="3" height="12" fill="#26583a"/><rect x="993" y="407" width="1" height="10" fill="#4f9c6a"/><rect x="998" y="402" width="1" height="12" fill="#545454"/><rect x="997" y="407" width="3" height="3" fill="#26583a"/><rect x="998" y="408" width="1" height="1" fill="#4f9c6a"/><rect x="1003" y="410" width="1" height="24" fill="#545454"/><rect x="1002" y="412" width="3" height="19" fill="#74202c"/><rect x="1003" y="413" width="1" height="17" fill="#c43a4e"/><rect x="1007" y="416" width="1" height="14" fill="#545454"/><rect x="1006" y="419" width="3" height="10" fill="#26583a"/><rect x="1007" y="420" width="1" height="8" fill="#4f9c6a"/><rect x="1012" y="407" width="1" height="21" fill="#545454"/><rect x="1011" y="410" width="3" height="10" fill="#26583a"/><rect x="1012" y="411" width="1" height="8" fill="#4f9c6a"/><rect x="1017" y="400" width="1" height="15" fill="#545454"/><rect x="1016" y="407" width="3" height="5" fill="#74202c"/><rect x="1017" y="408" width="1" height="3" fill="#c43a4e"/><rect x="1022" y="406" width="1" height="19" fill="#545454"/><rect x="1021" y="408" width="3" height="15" fill="#74202c"/><rect x="1022" y="409" width="1" height="13" fill="#c43a4e"/><rect x="1027" y="422" width="1" height="15" fill="#545454"/><rect x="1026" y="427" width="3" height="9" fill="#26583a"/><rect x="1027" y="428" width="1" height="7" fill="#4f9c6a"/><rect x="1031" y="423" width="1" height="28" fill="#545454"/><rect x="1030" y="424" width="3" height="23" fill="#74202c"/><rect x="1031" y="425" width="1" height="21" fill="#c43a4e"/><rect x="1036" y="442" width="1" height="10" fill="#545454"/><rect x="1035" y="444" width="3" height="7" fill="#26583a"/><rect x="1036" y="445" width="1" height="5" fill="#4f9c6a"/><rect x="1041" y="442" width="1" height="9" fill="#545454"/><rect x="1040" y="443" width="3" height="4" fill="#26583a"/><rect x="1041" y="444" width="1" height="2" fill="#4f9c6a"/><rect x="1046" y="425" width="1" height="17" fill="#545454"/><rect x="1045" y="432" width="3" height="10" fill="#26583a"/><rect x="1046" y="433" width="1" height="8" fill="#4f9c6a"/><rect x="1051" y="431" width="1" height="16" fill="#545454"/><rect x="1050" y="437" width="3" height="1.4" fill="#2e2e2e"/><rect x="1055" y="433" width="1" height="25" fill="#545454"/><rect x="1054" y="434" width="3" height="20" fill="#74202c"/><rect x="1055" y="435" width="1" height="18" fill="#c43a4e"/><rect x="1060" y="451" width="1" height="6" fill="#545454"/><rect x="1059" y="454" width="3" height="1.4" fill="#2e2e2e"/><rect x="1065" y="442" width="1" height="14" fill="#545454"/><rect x="1064" y="445" width="3" height="9" fill="#26583a"/><rect x="1065" y="446" width="1" height="7" fill="#4f9c6a"/><rect x="1070" y="445" width="1" height="18" fill="#545454"/><rect x="1069" y="446" width="3" height="17" fill="#74202c"/><rect x="1070" y="447" width="1" height="15" fill="#c43a4e"/><rect x="1074" y="460" width="1" height="13" fill="#545454"/><rect x="1073" y="463" width="3" height="8" fill="#26583a"/><rect x="1074" y="464" width="1" height="6" fill="#4f9c6a"/><rect x="1079" y="456" width="1" height="11" fill="#545454"/><rect x="1078" y="460" width="3" height="1.4" fill="#2e2e2e"/><rect x="1084" y="432" width="1" height="18" fill="#545454"/><rect x="1083" y="436" width="3" height="10" fill="#26583a"/><rect x="1084" y="437" width="1" height="8" fill="#4f9c6a"/><rect x="1089" y="422" width="1" height="19" fill="#545454"/><rect x="1088" y="428" width="3" height="11" fill="#26583a"/><rect x="1089" y="429" width="1" height="9" fill="#4f9c6a"/><rect x="1094" y="417" width="1" height="15" fill="#545454"/><rect x="1093" y="421" width="3" height="3" fill="#26583a"/><rect x="1094" y="422" width="1" height="1" fill="#4f9c6a"/><rect x="1098" y="412" width="1" height="27" fill="#545454"/><rect x="1097" y="419" width="3" height="6" fill="#26583a"/><rect x="1098" y="420" width="1" height="4" fill="#4f9c6a"/><rect x="1103" y="402" width="1" height="23" fill="#545454"/><rect x="1102" y="412" width="3" height="11" fill="#26583a"/><rect x="1103" y="413" width="1" height="9" fill="#4f9c6a"/><rect x="1108" y="403" width="1" height="15" fill="#545454"/><rect x="1107" y="410" width="3" height="1.4" fill="#2e2e2e"/><rect x="1113" y="405" width="1" height="13" fill="#545454"/><rect x="1112" y="410" width="3" height="5" fill="#74202c"/><rect x="1113" y="411" width="1" height="3" fill="#c43a4e"/><rect x="1118" y="393" width="1" height="20" fill="#545454"/><rect x="1117" y="408" width="3" height="1.4" fill="#2e2e2e"/><rect x="1122" y="398" width="1" height="16" fill="#545454"/><rect x="1121" y="404" width="3" height="4" fill="#26583a"/><rect x="1122" y="405" width="1" height="2" fill="#4f9c6a"/><rect x="1127" y="404" width="1" height="15" fill="#545454"/><rect x="1126" y="406" width="3" height="12" fill="#74202c"/><rect x="1127" y="407" width="1" height="10" fill="#c43a4e"/><rect x="1132" y="414" width="1" height="19" fill="#545454"/><rect x="1131" y="417" width="3" height="14" fill="#74202c"/><rect x="1132" y="418" width="1" height="12" fill="#c43a4e"/><rect x="1137" y="422" width="1" height="12" fill="#545454"/><rect x="1136" y="429" width="3" height="4" fill="#26583a"/><rect x="1137" y="430" width="1" height="2" fill="#4f9c6a"/><rect x="1142" y="414" width="1" height="17" fill="#545454"/><rect x="1141" y="415" width="3" height="13" fill="#26583a"/><rect x="1142" y="416" width="1" height="11" fill="#4f9c6a"/><rect x="1146" y="402" width="1" height="37" fill="#545454"/><rect x="1145" y="406" width="3" height="9" fill="#26583a"/><rect x="1146" y="407" width="1" height="7" fill="#4f9c6a"/><rect x="1151" y="397" width="1" height="13" fill="#545454"/><rect x="1150" y="404" width="3" height="4" fill="#74202c"/><rect x="1151" y="405" width="1" height="2" fill="#c43a4e"/><rect x="1156" y="407" width="1" height="24" fill="#545454"/><rect x="1155" y="410" width="3" height="20" fill="#74202c"/><rect x="1156" y="411" width="1" height="18" fill="#c43a4e"/><rect x="1161" y="428" width="1" height="12" fill="#545454"/><rect x="1160" y="429" width="3" height="8" fill="#74202c"/><rect x="1161" y="430" width="1" height="6" fill="#c43a4e"/><rect x="1165" y="433" width="1" height="15" fill="#545454"/><rect x="1164" y="433" width="3" height="15" fill="#74202c"/><rect x="1165" y="434" width="1" height="13" fill="#c43a4e"/><rect x="1170" y="439" width="1" height="13" fill="#545454"/><rect x="1169" y="441" width="3" height="6" fill="#26583a"/><rect x="1170" y="442" width="1" height="4" fill="#4f9c6a"/><rect x="1175" y="432" width="1" height="13" fill="#545454"/><rect x="1174" y="440" width="3" height="1.4" fill="#2e2e2e"/><rect x="1180" y="425" width="1" height="17" fill="#545454"/><rect x="1179" y="434" width="3" height="4" fill="#26583a"/><rect x="1180" y="435" width="1" height="2" fill="#4f9c6a"/><rect x="1185" y="386" width="1" height="18" fill="#545454"/><rect x="1184" y="389" width="3" height="4" fill="#74202c"/><rect x="1185" y="390" width="1" height="2" fill="#c43a4e"/><rect x="1189" y="379" width="1" height="23" fill="#545454"/><rect x="1188" y="384" width="3" height="17" fill="#26583a"/><rect x="1189" y="385" width="1" height="15" fill="#4f9c6a"/><rect x="1194" y="372" width="1" height="14" fill="#545454"/><rect x="1193" y="379" width="3" height="4" fill="#26583a"/><rect x="1194" y="380" width="1" height="2" fill="#4f9c6a"/><rect x="1199" y="353" width="1" height="24" fill="#545454"/><rect x="1198" y="355" width="3" height="21" fill="#26583a"/><rect x="1199" y="356" width="1" height="19" fill="#4f9c6a"/><rect x="1204" y="340" width="1" height="24" fill="#545454"/><rect x="1203" y="357" width="3" height="3" fill="#3a3a3a"/><rect x="1204" y="358" width="1" height="1" fill="#3a3a3a"/><rect x="1209" y="359" width="1" height="18" fill="#545454"/><rect x="1208" y="363" width="3" height="14" fill="#74202c"/><rect x="1209" y="364" width="1" height="12" fill="#c43a4e"/><rect x="1213" y="353" width="1" height="27" fill="#545454"/><rect x="1212" y="371" width="3" height="9" fill="#26583a"/><rect x="1213" y="372" width="1" height="7" fill="#4f9c6a"/><rect x="1218" y="348" width="1" height="23" fill="#545454"/><rect x="1217" y="353" width="3" height="13" fill="#26583a"/><rect x="1218" y="354" width="1" height="11" fill="#4f9c6a"/><rect x="1223" y="344" width="1" height="32" fill="#545454"/><rect x="1222" y="348" width="3" height="27" fill="#74202c"/><rect x="1223" y="349" width="1" height="25" fill="#c43a4e"/><rect x="1228" y="367" width="1" height="21" fill="#545454"/><rect x="1227" y="374" width="3" height="10" fill="#74202c"/><rect x="1228" y="375" width="1" height="8" fill="#c43a4e"/><rect x="1233" y="386" width="1" height="22" fill="#545454"/><rect x="1232" y="387" width="3" height="20" fill="#74202c"/><rect x="1233" y="388" width="1" height="18" fill="#c43a4e"/><rect x="1237" y="401" width="1" height="17" fill="#545454"/><rect x="1236" y="404" width="3" height="3" fill="#26583a"/><rect x="1237" y="405" width="1" height="1" fill="#4f9c6a"/><rect x="1242" y="406" width="1" height="13" fill="#545454"/><rect x="1241" y="406" width="3" height="12" fill="#74202c"/><rect x="1242" y="407" width="1" height="10" fill="#c43a4e"/><rect x="1247" y="415" width="1" height="10" fill="#545454"/><rect x="1246" y="417" width="3" height="1.4" fill="#2e2e2e"/><rect x="1252" y="412" width="1" height="18" fill="#545454"/><rect x="1251" y="416" width="3" height="14" fill="#74202c"/><rect x="1252" y="417" width="1" height="12" fill="#c43a4e"/><rect x="1257" y="418" width="1" height="17" fill="#545454"/><rect x="1256" y="419" width="3" height="12" fill="#26583a"/><rect x="1257" y="420" width="1" height="10" fill="#4f9c6a"/><rect x="1261" y="361" width="1" height="41" fill="#545454"/><rect x="1260" y="366" width="3" height="33" fill="#26583a"/><rect x="1261" y="367" width="1" height="31" fill="#4f9c6a"/><rect x="1266" y="353" width="1" height="17" fill="#545454"/><rect x="1265" y="355" width="3" height="7" fill="#26583a"/><rect x="1266" y="356" width="1" height="5" fill="#4f9c6a"/><rect x="1271" y="341" width="1" height="26" fill="#545454"/><rect x="1270" y="353" width="3" height="6" fill="#74202c"/><rect x="1271" y="354" width="1" height="4" fill="#c43a4e"/><rect x="1276" y="351" width="1" height="29" fill="#545454"/><rect x="1275" y="360" width="3" height="13" fill="#74202c"/><rect x="1276" y="361" width="1" height="11" fill="#c43a4e"/><rect x="1280" y="366" width="1" height="26" fill="#545454"/><rect x="1279" y="379" width="3" height="3" fill="#26583a"/><rect x="1280" y="380" width="1" height="1" fill="#4f9c6a"/><rect x="1285" y="357" width="1" height="26" fill="#545454"/><rect x="1284" y="359" width="3" height="6" fill="#26583a"/><rect x="1285" y="360" width="1" height="4" fill="#4f9c6a"/><rect x="1290" y="360" width="1" height="26" fill="#545454"/><rect x="1289" y="364" width="3" height="9" fill="#74202c"/><rect x="1290" y="365" width="1" height="7" fill="#c43a4e"/><rect x="1295" y="302" width="1" height="14" fill="#545454"/><rect x="1294" y="306" width="3" height="3" fill="#74202c"/><rect x="1295" y="307" width="1" height="1" fill="#c43a4e"/><rect x="1300" y="272" width="1" height="39" fill="#545454"/><rect x="1299" y="288" width="3" height="23" fill="#26583a"/><rect x="1300" y="289" width="1" height="21" fill="#4f9c6a"/><rect x="1304" y="260" width="1" height="20" fill="#545454"/><rect x="1303" y="265" width="3" height="9" fill="#26583a"/><rect x="1304" y="266" width="1" height="7" fill="#4f9c6a"/><rect x="1309" y="242" width="1" height="28" fill="#545454"/><rect x="1308" y="245" width="3" height="15" fill="#26583a"/><rect x="1309" y="246" width="1" height="13" fill="#4f9c6a"/><rect x="1314" y="227" width="1" height="30" fill="#545454"/><rect x="1313" y="235" width="3" height="13" fill="#26583a"/><rect x="1314" y="236" width="1" height="11" fill="#4f9c6a"/><rect x="1319" y="234" width="1" height="20" fill="#545454"/><rect x="1318" y="238" width="3" height="13" fill="#74202c"/><rect x="1319" y="239" width="1" height="11" fill="#c43a4e"/><rect x="1324" y="224" width="1" height="31" fill="#545454"/><rect x="1323" y="233" width="3" height="17" fill="#26583a"/><rect x="1324" y="234" width="1" height="15" fill="#4f9c6a"/><rect x="1328" y="224" width="1" height="20" fill="#545454"/><rect x="1327" y="225" width="3" height="15" fill="#74202c"/><rect x="1328" y="226" width="1" height="13" fill="#c43a4e"/><rect x="1333" y="212" width="1" height="33" fill="#545454"/><rect x="1332" y="216" width="3" height="20" fill="#74202c"/><rect x="1333" y="217" width="1" height="18" fill="#c43a4e"/><rect x="1338" y="202" width="1" height="41" fill="#545454"/><rect x="1337" y="204" width="3" height="26" fill="#26583a"/><rect x="1338" y="205" width="1" height="24" fill="#4f9c6a"/><rect x="1343" y="202" width="1" height="15" fill="#545454"/><rect x="1342" y="208" width="3" height="1.4" fill="#2e2e2e"/><rect x="1348" y="187" width="1" height="31" fill="#545454"/><rect x="1347" y="193" width="3" height="16" fill="#26583a"/><rect x="1348" y="194" width="1" height="14" fill="#4f9c6a"/><rect x="1352" y="195" width="1" height="34" fill="#545454"/><rect x="1351" y="200" width="3" height="4" fill="#74202c"/><rect x="1352" y="201" width="1" height="2" fill="#c43a4e"/><rect x="1357" y="207" width="1" height="30" fill="#545454"/><rect x="1356" y="209" width="3" height="23" fill="#74202c"/><rect x="1357" y="210" width="1" height="21" fill="#c43a4e"/><rect x="1362" y="227" width="1" height="22" fill="#545454"/><rect x="1361" y="231" width="3" height="5" fill="#26583a"/><rect x="1362" y="232" width="1" height="3" fill="#4f9c6a"/><rect x="1367" y="199" width="1" height="34" fill="#545454"/><rect x="1366" y="206" width="3" height="24" fill="#26583a"/><rect x="1367" y="207" width="1" height="22" fill="#4f9c6a"/><rect x="1371" y="197" width="1" height="21" fill="#545454"/><rect x="1370" y="204" width="3" height="13" fill="#74202c"/><rect x="1371" y="205" width="1" height="11" fill="#c43a4e"/><rect x="1376" y="188" width="1" height="29" fill="#545454"/><rect x="1375" y="202" width="3" height="12" fill="#26583a"/><rect x="1376" y="203" width="1" height="10" fill="#4f9c6a"/><rect x="1381" y="202" width="1" height="18" fill="#545454"/><rect x="1380" y="206" width="3" height="12" fill="#26583a"/><rect x="1381" y="207" width="1" height="10" fill="#4f9c6a"/><rect x="1386" y="188" width="1" height="40" fill="#545454"/><rect x="1385" y="193" width="3" height="23" fill="#74202c"/><rect x="1386" y="194" width="1" height="21" fill="#c43a4e"/><rect x="1391" y="193" width="1" height="26" fill="#545454"/><rect x="1390" y="205" width="3" height="10" fill="#26583a"/><rect x="1391" y="206" width="1" height="8" fill="#4f9c6a"/><rect x="1395" y="162" width="1" height="48" fill="#545454"/><rect x="1394" y="165" width="3" height="33" fill="#26583a"/><rect x="1395" y="166" width="1" height="31" fill="#4f9c6a"/><rect x="1400" y="150" width="1" height="27" fill="#545454"/><rect x="1399" y="154" width="3" height="9" fill="#26583a"/><rect x="1400" y="155" width="1" height="7" fill="#4f9c6a"/><rect x="1405" y="146" width="1" height="24" fill="#545454"/><rect x="1404" y="156" width="3" height="11" fill="#74202c"/><rect x="1405" y="157" width="1" height="9" fill="#c43a4e"/><rect x="1410" y="138" width="1" height="32" fill="#545454"/><rect x="1409" y="144" width="3" height="25" fill="#26583a"/><rect x="1410" y="145" width="1" height="23" fill="#4f9c6a"/><rect x="1415" y="132" width="1" height="30" fill="#545454"/><rect x="1414" y="135" width="3" height="7" fill="#26583a"/><rect x="1415" y="136" width="1" height="5" fill="#4f9c6a"/><rect x="1419" y="75" width="1" height="63" fill="#545454"/><rect x="1418" y="104" width="3" height="30" fill="#26583a"/><rect x="1419" y="105" width="1" height="28" fill="#4f9c6a"/><rect x="1424" y="115" width="1" height="49" fill="#545454"/><rect x="1423" y="130" width="3" height="26" fill="#74202c"/><rect x="1424" y="131" width="1" height="24" fill="#c43a4e"/><rect x="1429" y="161" width="1" height="44" fill="#545454"/><rect x="1428" y="162" width="3" height="42" fill="#74202c"/><rect x="1429" y="163" width="1" height="40" fill="#c43a4e"/><rect x="1434" y="186" width="1" height="30" fill="#545454"/><rect x="1433" y="200" width="3" height="1.4" fill="#2e2e2e"/><rect x="1439" y="194" width="1" height="60" fill="#545454"/><rect x="1438" y="196" width="3" height="55" fill="#74202c"/><rect x="1439" y="197" width="1" height="53" fill="#c43a4e"/><rect x="1443" y="247" width="1" height="24" fill="#545454"/><rect x="1442" y="250" width="3" height="17" fill="#74202c"/><rect x="1443" y="251" width="1" height="15" fill="#c43a4e"/><rect x="1448" y="252" width="1" height="30" fill="#545454"/><rect x="1447" y="259" width="3" height="23" fill="#74202c"/><rect x="1448" y="260" width="1" height="21" fill="#c43a4e"/><rect x="1453" y="276" width="1" height="26" fill="#545454"/><rect x="1452" y="277" width="3" height="22" fill="#74202c"/><rect x="1453" y="278" width="1" height="20" fill="#c43a4e"/><rect x="1458" y="266" width="1" height="27" fill="#545454"/><rect x="1457" y="279" width="3" height="13" fill="#26583a"/><rect x="1458" y="280" width="1" height="11" fill="#4f9c6a"/><rect x="1462" y="252" width="1" height="46" fill="#545454"/><rect x="1461" y="266" width="3" height="30" fill="#74202c"/><rect x="1462" y="267" width="1" height="28" fill="#c43a4e"/><rect x="1467" y="278" width="1" height="26" fill="#545454"/><rect x="1466" y="284" width="3" height="7" fill="#26583a"/><rect x="1467" y="285" width="1" height="5" fill="#4f9c6a"/><rect x="1472" y="263" width="1" height="46" fill="#545454"/><rect x="1471" y="271" width="3" height="16" fill="#74202c"/><rect x="1472" y="272" width="1" height="14" fill="#c43a4e"/><rect x="1477" y="220" width="1" height="68" fill="#545454"/><rect x="1476" y="226" width="3" height="59" fill="#26583a"/><rect x="1477" y="227" width="1" height="57" fill="#4f9c6a"/><rect x="1482" y="200" width="1" height="53" fill="#545454"/><rect x="1481" y="225" width="3" height="24" fill="#74202c"/><rect x="1482" y="226" width="1" height="22" fill="#c43a4e"/><rect x="1486" y="224" width="1" height="32" fill="#545454"/><rect x="1485" y="232" width="3" height="23" fill="#26583a"/><rect x="1486" y="233" width="1" height="21" fill="#4f9c6a"/><rect x="1491" y="278" width="1" height="33" fill="#545454"/><rect x="1490" y="284" width="3" height="8" fill="#26583a"/><rect x="1491" y="285" width="1" height="6" fill="#4f9c6a"/><rect x="1496" y="258" width="1" height="35" fill="#545454"/><rect x="1495" y="286" width="3" height="5" fill="#26583a"/><rect x="1496" y="287" width="1" height="3" fill="#4f9c6a"/><rect x="1501" y="285" width="1" height="41" fill="#545454"/><rect x="1500" y="285" width="3" height="41" fill="#74202c"/><rect x="1501" y="286" width="1" height="39" fill="#c43a4e"/></g>
<path d="M1341.2,389.9 L1361.7,403.5 L1555.1,403.5 Q1562.1,403.5 1562.1,410.5 L1562.1,439.1 Q1562.1,446.1 1555.1,446.1 L1359.5,446.1 Q1352.5,446.1 1352.5,439.1 L1352.5,414.4 Z" fill="#f23645" stroke="#8a2040" stroke-width="1"/>
<text x="1365.7" y="429.6" font-size="16.5" font-weight="bold" fill="#fff" textLength="183" lengthAdjust="spacingAndGlyphs">Bullish Price Structure</text>
<polyline points="13.2,585.2 15.4,594.7 20.9,596.9 25.3,606.1 29.8,605.7 35.3,611.6 40.8,628.2 44.1,628.6 49.6,641.8 52.9,643.1 59.5,652 64.4,643.6 69.4,643.1 72.7,639.2 78.2,612.7 83.3,608.8 87.7,636.1 92.6,589.6 97,591.1 101.8,603.9 106.9,606.6 111.3,599.5 116.8,608.8 121.2,603.9 130.5,611 134.9,592.5 139.9,592.9 145.5,588.5 151,607.2 155.4,605 159.8,594 164.2,592.5 169.7,580.8 174.1,573.5 179,592.9 184,581.9 187.8,576.4 193.5,598.4 198.3,590.7 208.3,613.2 213.3,612.7 218.2,611 221.5,611 226.6,603.9 231.4,604.6 239.8,586.9 245.7,602.8 250.8,608.3 255.6,601.7 261.2,596.9 268.9,576.4 274.4,584.5 279.4,571.5 288.7,613.8 294.2,588.9 298.6,605 303,604.4 307.4,619.3 313,606.1 318,616.7 322.2,610.1 326.6,606.1 331.7,594.7 336.1,596.9 341.6,595.5 351.5,585.2 355.9,602.8 360.3,612.7 365.8,604.4 370.2,605 375.8,601.7 389,640.3 394.4,645.3 398.8,645.3 404.3,628.2 409.4,632.1 413.8,626 418.2,623.7 423.1,628.6 428.6,621.1 433,617.1 438,613.8 446.9,604.4 451.7,589.6 456.8,578.6 462.3,588 466.7,584.7 470.4,600.6 475.5,593.3 480.8,606.1 485.2,607.2 490.9,613.8 494,599.5 499.1,589.6 504.2,585.8 509.4,595.1 518.9,586.7 523.3,589.6 528.4,613.8 533.3,612.7 537.7,613.2 543.2,618.2 548.2,616 552,604.4 556.4,621.5 560.8,622 566.3,626.4 571.8,630.4 577.3,628.6 585,612.7 590.6,608.8 596.1,622 604.9,608.3 609.3,629.3 619.2,649.1 624.3,624.8 629.1,637 634.2,639.2 638.6,647.5 643.4,648 647.8,651.3 652.7,651.3 658.4,661.2 663.3,661.2 667.2,660.1 672.1,664.5 676.9,664.5 682,627.1 687.5,624.2 692.4,628.2 700.7,606.6 710.7,618.2 716.2,607.9 719.5,610.1 724.5,596.9 729.8,608.8 734.2,608.8 743.7,629.3 748.1,632.1 753.2,644.7 758,621.1 762.5,623.7 768.6,630.8 776.8,620.4 781.8,609.4 786.6,611.6 792.1,617.6 797.2,601.7 802,599.5 806.4,600.6 810.9,603.5 815.3,596.2 820.8,610.1 825.8,618.2 834.7,621.5 838.4,614.9 844.4,599.5 853.8,584.1 862.6,610.5 868.2,624.8 873.7,632.6 878.1,623.7 883.1,608.3 888,626.4 892,629.3 896.8,624.8 902.3,629.3 906.7,629.3 912.2,634.8 916.6,641.8 920.6,631.5 925,632.1 929.9,619.3 935.4,614.5 940.9,612.3 945.3,612.7 949.7,611 954.1,632.6 958.5,638.1 964,649.1 969.1,648 973.5,645.8 978.3,654.2 982.8,637 988.3,643.1 992.7,637.4 997.7,639.2 1001.5,649.1 1006.6,640.3 1011.4,633.7 1016.9,634.3 1021.3,640.3 1026.4,643.6 1030.8,654.2 1035.6,652.4 1041.2,650.2 1045.6,639.6 1050,641.8 1055.5,652.8 1059.5,654.2 1064.3,642.5 1069.1,653.5 1074.2,653.5 1079.3,650.2 1084.1,627.1 1088.5,618.2 1093.4,612.7 1098.5,611 1103.5,605 1108.4,603.9 1113.2,607.2 1117.6,602.1 1122,599.1 1131.5,626.4 1136.6,625.5 1141.4,611.6 1145.8,602.8 1150.3,603.5 1155.1,626 1160.2,632.6 1165.2,641.8 1170.1,634.8 1174.5,633.7 1179.3,626.4 1184.3,590.2 1188.7,585.2 1193.8,581.9 1198.2,569.8 1203.1,574.8 1208.6,591.1 1213,588.9 1218,578.6 1222.9,598.4 1227.3,606.1 1232.1,622.6 1236.1,622 1241.6,629.9 1246.7,631.5 1252,638.1 1255.5,629.3 1260.4,594 1265.2,589.6 1270.3,592.5 1275.3,603.5 1280.2,607.2 1284.6,596.9 1289.4,605.7 1294.5,577 1300,570.9 1305.5,563.1 1313.3,556.5 1318.1,567.5 1323.2,563.1 1328.2,567.5 1333.1,566.4 1337.9,557.6 1342.3,560.9 1346.8,557.2 1351.8,566.4 1356.9,586.7 1361.3,586.7 1366.6,577 1371,584.1 1375.4,579.2 1380.5,581.9 1386,588.9 1390.4,584.5 1395.2,569.8 1399.6,566.4 1404,574.2 1409.8,566.9 1414.2,564.7 1419.5,556.5 1423.4,584.1 1428.3,613.2 1432.7,612.7 1437.8,631.5 1443.3,638.1 1448.1,642.5 1452.1,648 1456.9,638.7 1462,643.6 1467.5,638.1 1471.9,639.2 1476.8,611.6 1481.2,619.8 1485.6,613.8 1490.7,632.6 1495.1,634.3 1500.6,645.8" fill="none" stroke="#7a5cb8" stroke-width="1.3" stroke-linejoin="round"/>
<g font-family="Liberation Sans, sans-serif">
<text x="13.2" y="24.8" font-size="15" fill="#1a1a1a" textLength="527.6" lengthAdjust="spacingAndGlyphs">GoldPredictorsAnalysis created with TradingView.com, Jan 01, 2026 04:42 UTC</text>
<text x="23.8" y="58.8" font-size="15.5" fill="#5a5a5a" textLength="223.2" lengthAdjust="spacingAndGlyphs">Natural Gas Futures · 1D · NYMEX</text>
<text x="256.9" y="58.8" font-size="15.5" fill="#5a5a5a">O</text>
<text x="267.5" y="58.8" font-size="15.5" fill="#4e2228" textLength="35.6" lengthAdjust="spacingAndGlyphs">3.976</text>
<text x="313.4" y="58.8" font-size="15.5" fill="#5a5a5a">H</text>
<text x="323.5" y="58.8" font-size="15.5" fill="#4e2228" textLength="35.1" lengthAdjust="spacingAndGlyphs">3.983</text>
<text x="368.9" y="58.8" font-size="15.5" fill="#5a5a5a">L</text>
<text x="377.5" y="58.8" font-size="15.5" fill="#4e2228" textLength="35" lengthAdjust="spacingAndGlyphs">3.679</text>
<text x="422.1" y="58.8" font-size="15.5" fill="#5a5a5a">C</text>
<text x="432.5" y="58.8" font-size="15.5" fill="#4e2228" textLength="34.6" lengthAdjust="spacingAndGlyphs">3.686</text>
<text x="477" y="58.8" font-size="15.5" fill="#4e2228" textLength="105.7" lengthAdjust="spacingAndGlyphs">−0.286 (−7.20%)</text>
<text x="23.8" y="79.8" font-size="15.5" fill="#5a5a5a" textLength="100.2" lengthAdjust="spacingAndGlyphs">SMA (50, close)</text>
<text x="134.8" y="79.8" font-size="15.5" fill="#4a6fcf" textLength="35.2" lengthAdjust="spacingAndGlyphs">4.263</text>
<text x="23.8" y="100.5" font-size="15.5" fill="#5a5a5a" textLength="108.5" lengthAdjust="spacingAndGlyphs">SMA (200, close)</text>
<text x="142.2" y="100.5" font-size="15.5" fill="#333" textLength="36.4" lengthAdjust="spacingAndGlyphs">3.569</text>
<rect x="21" y="561" width="147" height="17" fill="#fff" opacity="0"/>
<text x="24.1" y="574.5" font-size="14.5" fill="#5a5a5a" textLength="92.7" lengthAdjust="spacingAndGlyphs">RSI (14, close)</text>
<text x="127.8" y="574.5" font-size="14.5" fill="#7a5cb8" textLength="36.4" lengthAdjust="spacingAndGlyphs">37.83</text>
<text x="1739.8" y="150.1" font-size="17.5" fill="#4a4a4a" textLength="42.1" lengthAdjust="spacingAndGlyphs">5.000</text>
<text x="1739.8" y="218.8" font-size="17.5" fill="#4a4a4a" textLength="42.1" lengthAdjust="spacingAndGlyphs">4.500</text>
<text x="1739.8" y="287.9" font-size="17.5" fill="#4a4a4a" textLength="42.1" lengthAdjust="spacingAndGlyphs">4.000</text>
<text x="1739.8" y="357.7" font-size="17.5" fill="#4a4a4a" textLength="42.1" lengthAdjust="spacingAndGlyphs">3.500</text>
<text x="1739.8" y="426.9" font-size="17.5" fill="#4a4a4a" textLength="42.1" lengthAdjust="spacingAndGlyphs">3.000</text>
<text x="1739.8" y="495.8" font-size="17.5" fill="#4a4a4a" textLength="42.1" lengthAdjust="spacingAndGlyphs">2.500</text>
<text x="1739.2" y="600.3" font-size="17.5" fill="#4a4a4a" textLength="42.7" lengthAdjust="spacingAndGlyphs">60.00</text>
<text x="1739.2" y="646.9" font-size="17.5" fill="#4a4a4a" textLength="42.7" lengthAdjust="spacingAndGlyphs">40.00</text>
<path d="M1727.6,314.1 L1786.8,314.1 Q1789.8,314.1 1789.8,317.1 L1789.8,335.5 Q1789.8,338.5 1786.8,338.5 L1727.6,338.5 Z" fill="#f23645"/>
<text x="1740.4" y="333.2" font-size="17.5" fill="#fff" textLength="42.9" lengthAdjust="spacingAndGlyphs" font-weight="bold">3.686</text>
<rect x="1732" y="39.5" width="63.5" height="60.5" rx="4" fill="#fff" stroke="#ececec" stroke-width="1.5"/>
<text x="1743.8" y="59.7" font-size="14.5" fill="#1e1e1e" textLength="24.9" lengthAdjust="spacingAndGlyphs">USD</text>
<text x="1743.3" y="90.8" font-size="14.5" fill="#1e1e1e" textLength="43.2" lengthAdjust="spacingAndGlyphs">MMBtu</text>
<text x="107.2" y="697.7" font-size="17" fill="#4a4a4a" text-anchor="middle">Nov</text>
<text x="203" y="697.7" font-size="17" fill="#4a4a4a" text-anchor="middle">Dec</text>
<text x="303.8" y="697.7" font-size="17" fill="#404040" font-weight="bold" text-anchor="middle">2025</text>
<text x="404.1" y="697.7" font-size="17" fill="#4a4a4a" text-anchor="middle">Feb</text>
<text x="494.5" y="697.7" font-size="17" fill="#4a4a4a" text-anchor="middle">Mar</text>
<text x="595.5" y="697.7" font-size="17" fill="#4a4a4a" text-anchor="middle">Apr</text>
<text x="696.4" y="697.7" font-size="17" fill="#4a4a4a" text-anchor="middle">May</text>
<text x="796.7" y="697.7" font-size="17" fill="#4a4a4a" text-anchor="middle">Jun</text>
<text x="892.4" y="697.7" font-size="17" fill="#4a4a4a" text-anchor="middle">Jul</text>
<text x="998" y="697.7" font-size="17" fill="#4a4a4a" text-anchor="middle">Aug</text>
<text x="1098.5" y="697.7" font-size="17" fill="#4a4a4a" text-anchor="middle">Sep</text>
<text x="1198.8" y="697.7" font-size="17" fill="#4a4a4a" text-anchor="middle">Oct</text>
<text x="1309.4" y="697.7" font-size="17" fill="#4a4a4a" text-anchor="middle">Nov</text>
<text x="1400.2" y="697.7" font-size="17" fill="#4a4a4a" text-anchor="middle">Dec</text>
<text x="1505.6" y="697.7" font-size="17" fill="#404040" font-weight="bold" text-anchor="middle">2026</text>
<text x="1601.3" y="697.7" font-size="17" fill="#4a4a4a" text-anchor="middle">Feb</text>
<text x="1692.4" y="697.7" font-size="17" fill="#4a4a4a" text-anchor="middle">Mar</text>
</g>
<g fill="#131313">
<path d="M15.8,739.8 H30.2 V757.8 H22.7 V746.8 H15.8 Z"/>
<circle cx="37.3" cy="742.8" r="3"/>
<path d="M44.4,739.8 H52.4 L44.8,757.8 H36.8 Z"/>
</g>
<text x="62.6" y="757.8" font-size="25" fill="#131313" textLength="150.5" lengthAdjust="spacingAndGlyphs" font-weight="bold">TradingView</text>
</svg>
</body></html>
